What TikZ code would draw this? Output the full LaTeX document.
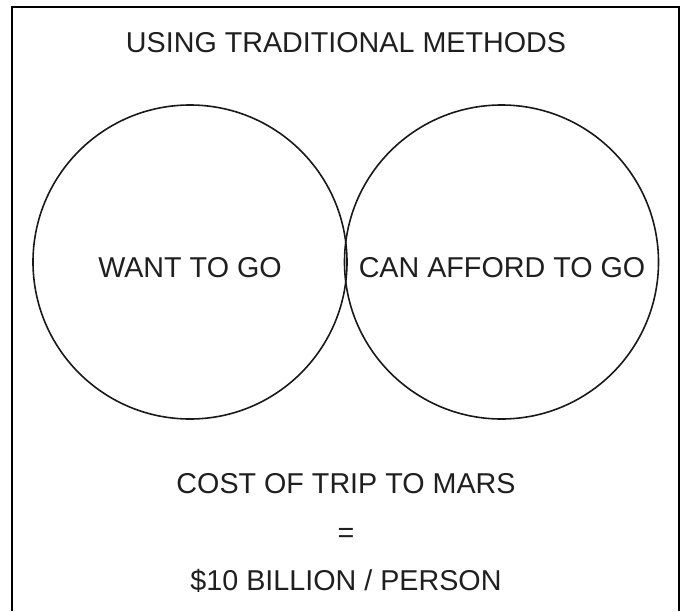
\documentclass[tikz,border=0pt]{standalone}
\usepackage{fontspec}
\setmainfont{Liberation Sans}
\begin{document}
\begin{tikzpicture}[x=0.5pt,y=-0.5pt,
    every node/.style={text=black!88,font=\fontsize{14.35}{17}\selectfont},
    venn/.style={circle,draw=black!90,line width=0.8pt,minimum size=157pt,inner sep=0pt},
    caption/.style={anchor=base}]
    \useasboundingbox (0,0) rectangle (686,611);

    % frame, open at the bottom
    \draw[line width=1.1pt] (12,611) -- (12,7) -- (679,7) -- (679,611);

    \node[caption] (title) at (346,52) {USING TRADITIONAL METHODS};

    \node[venn] (want) at (190,262) {};
    \node[venn] (afford) at (501.5,262) {};
    \node (wanttxt) at (190,268) {WANT TO GO};
    \node (affordtxt) at (502,268) {CAN AFFORD TO GO};

    \node[caption] (cost) at (346,493) {COST OF TRIP TO MARS};
    \node[caption] (equals) at (346,542) {=};
    \node[caption] (price) at (346,590) {\$10 BILLION / PERSON};
\end{tikzpicture}
\end{document}
